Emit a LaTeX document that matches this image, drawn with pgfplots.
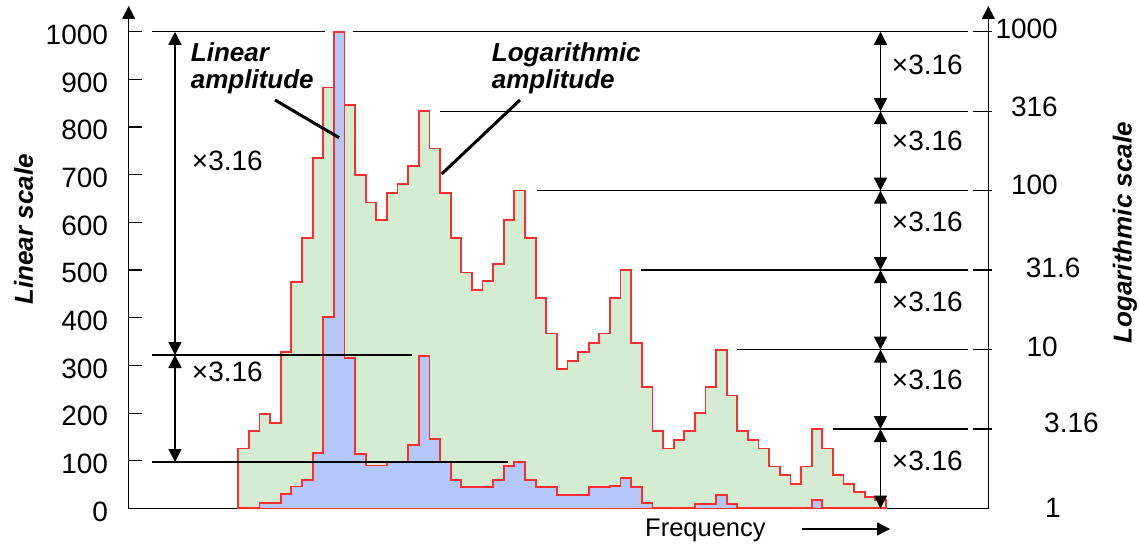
\documentclass[border=0pt]{standalone}
\usepackage{fontspec}
\setmainfont{Liberation Sans}
\usepackage{pgfplots}
\pgfplotsset{compat=1.18}
\usetikzlibrary{arrows.meta}
\definecolor{gfill}{RGB}{212,237,210}
\definecolor{bfill}{RGB}{179,200,249}
\definecolor{rline}{RGB}{255,45,45}
\newcommand{\fs}{\fontsize{28}{30}\selectfont}
\newcommand{\fl}{\fontsize{26}{28}\selectfont\bfseries\itshape}
\begin{document}
\begin{tikzpicture}[>={Triangle[width=13pt,length=13pt]}]
\begin{axis}[
  scale only axis, width=859.6pt, height=502.5pt,
  xmin=-10.322, xmax=70.635, ymin=0, ymax=1054,
  axis x line=bottom, axis y line=left,
  axis line style={line width=1.3pt, black},
  x axis line style={-},
  y axis line style={-{Triangle[width=13pt,length=13pt]}},
  xtick=\empty,
  ytick={0,100,200,300,400,500,600,700,800,900,1000},
  scaled y ticks=false,
  tick align=inside, major tick length=13pt,
  tick style={black, line width=1.3pt},
  /pgf/number format/assume math mode=true,
  /pgf/number format/1000 sep={},
  yticklabel style={font=\fs, anchor=east, inner sep=0pt, xshift=-20.5pt, yshift=-3pt},
  clip=false,
]
\addplot[const plot, fill=gfill, draw=rline, line width=1.8pt] coordinates {
(0,126) (1,163) (2,199) (3,180) (4,328) (5,475) (6,568) (7,736) (8,883) (9,1000)
(10,847) (11,699) (12,642) (13,605) (14,661) (15,681) (16,719) (17,833) (18,755) (19,661)
(20,568) (21,495) (22,459) (23,477) (24,513) (25,605) (26,667) (27,568) (28,441) (29,367)
(30,292) (31,310) (32,328) (33,347) (34,367) (35,441) (36,500) (37,347) (38,255) (39,163)
(40,126) (41,144) (42,163) (43,200) (44,255) (45,333) (46,237) (47,163) (48,144) (49,126)
(50,88) (51,71) (52,52) (53,88) (54,167) (55,126) (56,71) (57,52) (58,34) (59,24)
(60,17) (61,17)} \closedcycle;
\addplot[const plot, fill=bfill, draw=rline, line width=1.8pt] coordinates {
(0,1) (1,1) (2,11) (3,11) (4,30) (5,46) (6,60) (7,117) (8,402) (9,1000)
(10,315) (11,114) (12,90) (13,90) (14,97) (15,97) (16,133) (17,320) (18,146) (19,97)
(20,60) (21,45) (22,45) (23,45) (24,60) (25,89) (26,98) (27,60) (28,45) (29,45)
(30,28) (31,28) (32,28) (33,45) (34,45) (35,48) (36,64) (37,45) (38,11) (39,2)
(40,2) (41,2) (42,2) (43,10) (44,10) (45,28) (46,10) (47,2) (48,2) (49,2)
(50,2) (51,2) (52,2) (53,2) (54,18) (55,2) (56,2) (57,2) (58,2) (59,2)
(60,2) (61,2)} \closedcycle;
\end{axis}
\begin{scope}[shift={(-128.7pt,508.5pt)}, x=1pt, y=-1pt]
  % right axis
  \draw[line width=1.3pt, -{Triangle[width=13pt,length=13pt]}] (988.3,508.5) -- (988.3,6);
  % reference lines
  \begin{scope}[line width=1.3pt]
  \draw (151.7,31.8) -- (325,31.8);
  \draw (353.3,31.8) -- (968.3,31.8);
  \draw (440,111.25) -- (968.3,111.25);
  \draw (537.3,190.7) -- (968.3,190.7);
  \draw (640.7,270.15) -- (968.3,270.15);
  \draw (736.7,349.6) -- (968.3,349.6);
  \draw (833.3,429.05) -- (968.3,429.05);
  \foreach \yy in {31.8,111.25,190.7,270.15,349.6,429.05}
    \draw (972.7,\yy) -- (991.7,\yy);
  \draw (151.7,355) -- (412.3,355);
  \draw (151.7,462) -- (508.3,462);
  \end{scope}
  % double arrows
  \begin{scope}[line width=1.5pt]
  \draw[<->] (175,31.8) -- (175,355);
  \draw[<->] (175,355) -- (175,462);
  \draw[<->] (880.5,31.8) -- (880.5,111.25);
  \draw[<->] (880.5,111.25) -- (880.5,190.7);
  \draw[<->] (880.5,190.7) -- (880.5,270.15);
  \draw[<->] (880.5,270.15) -- (880.5,349.6);
  \draw[<->] (880.5,349.6) -- (880.5,429.05);
  \draw[<->] (880.5,429.05) -- (880.5,508.5);
  \end{scope}
  % x3.16 labels
  \node[font=\fs, anchor=west, inner sep=0pt] at (191.7,161) {×3.16};
  \node[font=\fs, anchor=west, inner sep=0pt] at (191.7,372.3) {×3.16};
  \foreach \yy in {65.3,141.3,221.4,301.9,379.6,460.8}
    \node[font=\fs, anchor=west, inner sep=0pt] at (891.7,\yy) {×3.16};
  % right scale labels
  \node[font=\fs, anchor=east, inner sep=0pt] at (1058,29) {1000};
  \node[font=\fs, anchor=east, inner sep=0pt] at (1058,106.8) {316};
  \node[font=\fs, anchor=east, inner sep=0pt] at (1058,184.5) {100};
  \node[font=\fs, anchor=west, inner sep=0pt] at (1025.7,267.4) {31.6};
  \node[font=\fs, anchor=east, inner sep=0pt] at (1058,346.8) {10};
  \node[font=\fs, anchor=west, inner sep=0pt] at (1044,422.8) {3.16};
  \node[font=\fs, anchor=west, inner sep=0pt] at (1045,507.4) {1};
  % amplitude labels
  \node[font=\fl, anchor=base west, inner sep=0pt] at (190.7,61.7) {Linear};
  \node[font=\fl, anchor=base west, inner sep=0pt] at (190.7,89) {amplitude};
  \node[font=\fl, anchor=base west, inner sep=0pt] at (491.7,61.7) {Logarithmic};
  \node[font=\fl, anchor=base west, inner sep=0pt] at (491.7,88.5) {amplitude};
  \draw[line width=3pt] (275,100) -- (339,137.7);
  \draw[line width=3pt] (520,100) -- (441.7,174);
  % axis titles
  \node[font=\fl, rotate=90, inner sep=0pt] at (23.5,229.4) {Linear scale};
  \node[font=\fl, rotate=90, inner sep=0pt] at (1125,232.8) {Logarithmic scale};
  \node[font=\fontsize{25.5}{28}\selectfont, anchor=base west, inner sep=0pt] at (645,536.7) {Frequency};
  \draw[line width=1.5pt, -{Triangle[width=13pt,length=13pt]}] (801.7,529) -- (890,529);
  \pgfresetboundingbox
  \path[use as bounding box] (0,0) rectangle (1139,544);
\end{scope}
\end{tikzpicture}
\end{document}
